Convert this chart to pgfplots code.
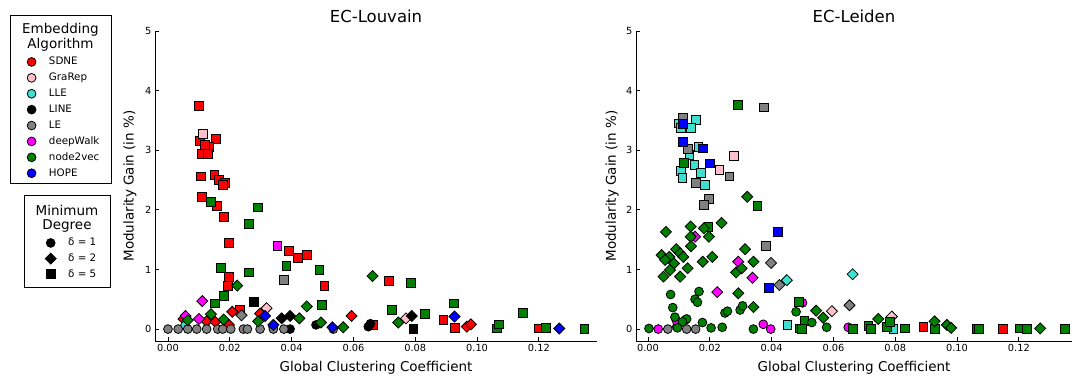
\documentclass[border=0pt]{standalone}
\usepackage{pgfplots}
\pgfplotsset{compat=1.18}
\usepackage{fontspec}
\setmainfont{DejaVu Sans}
\definecolor{cSDNE}{RGB}{255,0,0}
\definecolor{cGraRep}{RGB}{255,192,203}
\definecolor{cLLE}{RGB}{64,224,208}
\definecolor{cLINE}{RGB}{0,0,0}
\definecolor{cLE}{RGB}{128,128,128}
\definecolor{cDW}{RGB}{255,0,255}
\definecolor{cN2V}{RGB}{0,128,0}
\definecolor{cHOPE}{RGB}{0,0,255}
\pgfplotsset{
 mk1/.style={only marks, mark=*, mark size=4.4pt, mark options={draw=black, fill=#1, line width=0.8pt}},
 mk2/.style={only marks, mark=square*, mark size=3.9pt, mark options={draw=black, fill=#1, line width=0.8pt, rotate=45}},
 mk5/.style={only marks, mark=square*, mark size=4.4pt, mark options={draw=black, fill=#1, line width=0.8pt}},
 ecaxis/.style={
  scale only axis, anchor=south west, height=310pt,
  ymin=-0.2, ymax=5, ytick={0,1,2,3,4,5},
  xtick={0,0.02,0.04,0.06,0.08,0.1,0.12},
  scaled x ticks=false,
  xticklabel style={/pgf/number format/fixed, /pgf/number format/fixed zerofill, /pgf/number format/precision=2},
  axis x line*=bottom, axis y line*=left, axis line style={line width=0.8pt, -},
  tick align=inside, major tick length=4pt, tick style={line width=0.8pt, black},
  tick label style={font=\fontsize{9.8}{11}\selectfont},
  /pgf/number format/assume math mode=true,
  xlabel={Global Clustering Coefficient}, ylabel={Modularity Gain (in \%)},
  label style={font=\fontsize{13.5}{16}\selectfont},
  xlabel style={at={(axis description cs:0.5,-0.087)}, anchor=center},
  title style={font=\fontsize{16.5}{19}\selectfont, yshift=-1pt},
  clip=false,
 },
 legax/.style={hide axis, scale only axis, width=1pt, height=1pt, anchor=south west,
  xmin=0, xmax=1, ymin=0, ymax=1,
  legend image code/.code={\draw[mark repeat=1,##1] plot coordinates {(0pt,0pt)};},
  legend style={at={(0,0)}, anchor=north west, draw=none, fill=none, inner sep=0pt,
   font=\fontsize{10.3}{12}\selectfont, nodes={inner sep=0pt, text height=7.5pt, text depth=2pt}},
  legend cell align=left},
}
\begin{document}
\begin{tikzpicture}
\useasboundingbox (0,0) rectangle (1072pt,376pt);
% ---------------- EC-Louvain
\begin{axis}[ecaxis, at={(155pt,35pt)}, width=442pt, xmin=-0.0042, xmax=0.1388,
  title={EC-Louvain}, ylabel style={at={(axis description cs:-0.0566,0.5)}, anchor=center}]
\addplot[mk5=cSDNE] coordinates {(0.0101,3.74) (0.0104,3.16) (0.0154,3.19) (0.0134,3.06) (0.0120,3.09) (0.0109,2.94) (0.0130,2.94) (0.0106,2.56) (0.0150,2.58) (0.0165,2.50) (0.0185,2.45) (0.0177,2.42) (0.0110,2.22) (0.0159,2.07) (0.0181,1.88) (0.0198,1.44) (0.0198,0.87) (0.0195,0.72) (0.0392,1.31) (0.0420,1.20) (0.0449,1.24) (0.0506,0.73) (0.0715,0.81) (0.0233,0.32) (0.0664,0.07) (0.0891,0.15) (0.0927,0.02) (0.1200,0.01)};
\addplot[mk2=cSDNE] coordinates {(0.0050,0.17) (0.0125,0.13) (0.0153,0.12) (0.0208,0.29) (0.0197,0.07) (0.0298,0.26) (0.0594,0.22) (0.0967,0.04) (0.0980,0.08)};
\addplot[mk5=cGraRep] coordinates {(0.0114,3.27)};
\addplot[mk2=cGraRep] coordinates {(0.0319,0.35) (0.0770,0.18)};
\addplot[mk1=cLLE] coordinates {(0.0055,0.06)};
\addplot[mk5=cLINE] coordinates {(0.0278,0.45) (0.0794,0.00)};
\addplot[mk2=cLINE] coordinates {(0.0368,0.18) (0.0395,0.22) (0.0789,0.22)};
\addplot[mk1=cLINE] coordinates {(0.0395,0.00) (0.0479,0.07) (0.0648,0.04) (0.0655,0.09) (0.0340,0.04)};
\addplot[mk1=cLE] coordinates {(0.0000,0) (0.0033,0) (0.0064,0) (0.0093,0) (0.0125,0) (0.0161,0) (0.0177,0) (0.0203,0) (0.0244,0) (0.0257,0) (0.0298,0) (0.0341,0) (0.0375,0) (0.0535,0.0)};
\addplot[mk2=cLE] coordinates {(0.0238,0.23)};
\addplot[mk5=cLE] coordinates {(0.0376,0.83)};
\addplot[mk5=cDW] coordinates {(0.0354,1.40)};
\addplot[mk2=cDW] coordinates {(0.0111,0.47) (0.0057,0.22) (0.0100,0.17)};
\addplot[mk5=cN2V] coordinates {(0.0138,2.14) (0.0290,2.04) (0.0262,1.76) (0.0172,1.02) (0.0262,0.95) (0.0180,0.55) (0.0153,0.43) (0.0383,1.06) (0.0490,0.99) (0.0497,0.40) (0.0724,0.32) (0.0785,0.78) (0.0830,0.25) (0.0925,0.43) (0.1064,0.01) (0.1070,0.08) (0.1148,0.27) (0.1222,0.02) (0.1347,0.00)};
\addplot[mk2=cN2V] coordinates {(0.0224,0.73) (0.0139,0.25) (0.0180,0.16) (0.0064,0.15) (0.0449,0.38) (0.0292,0.13) (0.0425,0.18) (0.0495,0.11) (0.0567,0.03) (0.0662,0.89) (0.0745,0.11)};
\addplot[mk2=cHOPE] coordinates {(0.0314,0.22) (0.0341,0.07) (0.0532,0.03) (0.0927,0.21) (0.1266,0.01)};
\end{axis}
% ---------------- EC-Leiden
\begin{axis}[ecaxis, at={(636pt,35pt)}, width=436pt, xmin=-0.0039, xmax=0.1372,
  title={EC-Leiden}, ylabel style={at={(axis description cs:-0.055,0.5)}, anchor=center}]
\addplot[mk5=cSDNE] coordinates {(0.0891,0.03) (0.1148,0.00)};
\addplot[mk5=cGraRep] coordinates {(0.0278,2.91) (0.0231,2.67)};
\addplot[mk2=cGraRep] coordinates {(0.0595,0.30) (0.0789,0.21)};
\addplot[mk5=cLLE] coordinates {(0.0101,3.45) (0.0106,3.37) (0.0154,3.51) (0.0138,3.37) (0.0134,2.92) (0.0163,3.05) (0.0150,2.75) (0.0106,2.66) (0.0111,2.53) (0.0172,2.62) (0.0184,2.42) (0.0451,0.07) (0.0794,0.00)};
\addplot[mk2=cLLE] coordinates {(0.0449,0.82) (0.0662,0.92)};
\addplot[mk5=cLE] coordinates {(0.0114,3.54) (0.0376,3.72) (0.0128,3.02) (0.0263,2.56) (0.0154,2.45) (0.0198,2.19) (0.0181,2.08) (0.0382,1.40)};
\addplot[mk2=cLE] coordinates {(0.0398,1.11) (0.0425,0.74) (0.0652,0.40)};
\addplot[mk1=cLE] coordinates {(0.0064,0) (0.0125,0) (0.0154,0) (0.0093,0.04)};
\addplot[mk2=cDW] coordinates {(0.0152,1.55) (0.0292,1.13) (0.0338,0.86) (0.0224,0.62)};
\addplot[mk1=cDW] coordinates {(0.0033,0) (0.0373,0.08) (0.0397,0) (0.0648,0.03) (0.0093,0.13) (0.0500,0.44)};
\addplot[mk5=cN2V] coordinates {(0.0290,3.76) (0.0117,2.79) (0.0354,2.06) (0.0195,1.72) (0.0488,0.45) (0.0490,0.01) (0.0506,0.14) (0.0664,0.00) (0.0713,0.05) (0.0722,0.00) (0.0773,0.04) (0.0783,0.12) (0.0830,0.01) (0.0927,0.00) (0.1064,0.00) (0.1071,0.00) (0.1202,0.01) (0.1225,0.00) (0.1350,0.00) (0.0497,0.00)};
\addplot[mk2=cN2V] coordinates {(0.0321,2.22) (0.0238,1.78) (0.0058,1.63) (0.0138,1.72) (0.0181,1.69) (0.0138,1.55) (0.0197,1.55) (0.0139,1.39) (0.0314,1.34) (0.0091,1.34) (0.0104,1.27) (0.0044,1.24) (0.0069,1.21) (0.0055,1.16) (0.0084,1.10) (0.0114,1.21) (0.0208,1.21) (0.0177,1.13) (0.0128,1.02) (0.0071,0.99) (0.0050,0.88) (0.0104,0.88) (0.0341,1.13) (0.0285,0.95) (0.0303,1.02) (0.0292,0.60) (0.0341,0.37) (0.0544,0.31) (0.0567,0.19) (0.0745,0.17) (0.0927,0.13) (0.0967,0.07) (0.0981,0.02) (0.1269,0.01)};
\addplot[mk1=cN2V] coordinates {(0.0073,0.58) (0.0165,0.63) (0.0152,0.50) (0.0160,0.45) (0.0080,0.36) (0.0087,0.20) (0.0120,0.15) (0.0125,0.17) (0.0111,0.12) (0.0249,0.27) (0.0257,0.30) (0.0298,0.32) (0.0306,0.39) (0.0176,0.11) (0.0240,0.03) (0.0204,0.02) (0.0003,0.01) (0.0095,0.02) (0.0341,0.00) (0.0479,0.29) (0.0530,0.11) (0.0578,0.03)};
\addplot[mk5=cHOPE] coordinates {(0.0114,3.44) (0.0112,3.14) (0.0177,3.03) (0.0201,2.78) (0.0420,1.63) (0.0392,0.69)};
\end{axis}
% ---------------- legend 1
\draw[line width=0.8pt] (10pt,193pt) rectangle (111pt,361pt);
\node[font=\fontsize{13.5}{16}\selectfont] at (60.5pt,346pt) {Embedding};
\node[font=\fontsize{13.5}{16}\selectfont] at (60.5pt,331pt) {Algorithm};
\begin{axis}[legax, at={(27pt,319pt)}, legend style={row sep=6.4pt, column sep=13pt}]
\addlegendimage{mk1=cSDNE}\addlegendentry{SDNE}
\addlegendimage{mk1=cGraRep}\addlegendentry{GraRep}
\addlegendimage{mk1=cLLE}\addlegendentry{LLE}
\addlegendimage{mk1=cLINE}\addlegendentry{LINE}
\addlegendimage{mk1=cLE}\addlegendentry{LE}
\addlegendimage{mk1=cDW}\addlegendentry{deepWalk}
\addlegendimage{mk1=cN2V}\addlegendentry{node2vec}
\addlegendimage{mk1=cHOPE}\addlegendentry{HOPE}
\end{axis}
% ---------------- legend 2
\draw[line width=0.8pt] (24pt,89pt) rectangle (110pt,181pt);
\node[font=\fontsize{13.5}{16}\selectfont] at (67pt,166pt) {Minimum};
\node[font=\fontsize{13.5}{16}\selectfont] at (67pt,150pt) {Degree};
\begin{axis}[legax, at={(45pt,138pt)}, legend style={row sep=5.4pt, column sep=12pt}]
\addlegendimage{mk1=black}\addlegendentry{δ = 1}
\addlegendimage{mk2=black}\addlegendentry{δ = 2}
\addlegendimage{mk5=black}\addlegendentry{δ = 5}
\end{axis}
\end{tikzpicture}
\end{document}
